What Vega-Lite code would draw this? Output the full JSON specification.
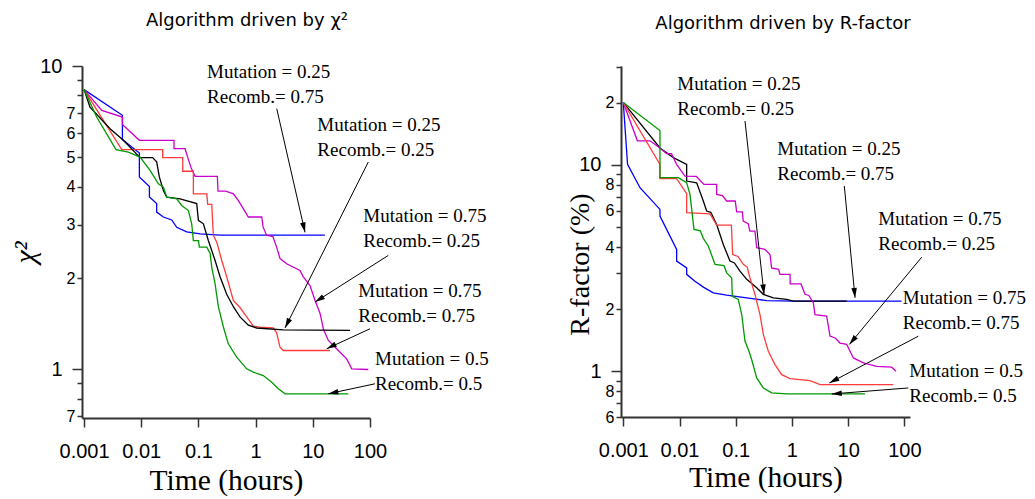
{
  "$schema": "https://vega.github.io/schema/vega-lite/v6.json",
  "padding": {"left": 10, "top": 12, "right": 0, "bottom": 0},
  "bounds": "flush",
  "spacing": 251,
  "config": {
    "view": {"stroke": null},
    "axis": {"domainColor": "#333333", "domainWidth": 2, "tickColor": "#333333", "tickWidth": 1.5, "labelColor": "black", "titleColor": "black", "grid": false, "labelOverlap": false, "labelBound": false, "labelFlush": false}
  },
  "datasets": {
    "chi": [
      {"run":"bl","i":0,"t":0.001,"v":8.36},{"run":"bl","i":1,"t":0.00468,"v":6.88},{"run":"bl","i":2,"t":0.00468,"v":5.72},{"run":"bl","i":3,"t":0.00927,"v":5.17},{"run":"bl","i":4,"t":0.00927,"v":4.31},{"run":"bl","i":5,"t":0.0139,"v":4.01},{"run":"bl","i":6,"t":0.0139,"v":3.70},{"run":"bl","i":7,"t":0.0186,"v":3.52},{"run":"bl","i":8,"t":0.0186,"v":3.30},{"run":"bl","i":9,"t":0.0244,"v":3.18},{"run":"bl","i":10,"t":0.0341,"v":3.11},{"run":"bl","i":11,"t":0.0417,"v":2.94},{"run":"bl","i":12,"t":0.0624,"v":2.84},{"run":"bl","i":13,"t":0.107,"v":2.80},{"run":"bl","i":14,"t":0.239,"v":2.77},{"run":"bl","i":15,"t":16.3,"v":2.77},
      {"run":"mg","i":0,"t":0.001,"v":8.36},{"run":"mg","i":1,"t":0.00204,"v":7.14},{"run":"mg","i":2,"t":0.00468,"v":6.79},{"run":"mg","i":3,"t":0.00468,"v":6.42},{"run":"mg","i":4,"t":0.00927,"v":5.69},{"run":"mg","i":5,"t":0.0374,"v":5.69},{"run":"mg","i":6,"t":0.0374,"v":5.34},{"run":"mg","i":7,"t":0.0583,"v":5.34},{"run":"mg","i":8,"t":0.065,"v":5.0},{"run":"mg","i":9,"t":0.075,"v":4.6},{"run":"mg","i":10,"t":0.0872,"v":4.33},{"run":"mg","i":11,"t":0.214,"v":4.33},{"run":"mg","i":12,"t":0.22,"v":3.87},{"run":"mg","i":13,"t":0.30,"v":3.87},{"run":"mg","i":14,"t":0.408,"v":3.79},{"run":"mg","i":15,"t":0.5,"v":3.6},{"run":"mg","i":16,"t":0.6,"v":3.4},{"run":"mg","i":17,"t":0.746,"v":3.18},{"run":"mg","i":18,"t":1.28,"v":3.18},{"run":"mg","i":19,"t":1.35,"v":2.95},{"run":"mg","i":20,"t":1.55,"v":2.77},{"run":"mg","i":21,"t":2.0,"v":2.74},{"run":"mg","i":22,"t":2.33,"v":2.53},{"run":"mg","i":23,"t":2.67,"v":2.32},{"run":"mg","i":24,"t":3.49,"v":2.23},{"run":"mg","i":25,"t":5.97,"v":2.12},{"run":"mg","i":26,"t":6.82,"v":2.02},{"run":"mg","i":27,"t":8.93,"v":1.89},{"run":"mg","i":28,"t":10.9,"v":1.69},{"run":"mg","i":29,"t":13.4,"v":1.53},{"run":"mg","i":30,"t":15.3,"v":1.36},{"run":"mg","i":31,"t":18.7,"v":1.246},{"run":"mg","i":32,"t":26.1,"v":1.17},{"run":"mg","i":33,"t":39.1,"v":1.084},{"run":"mg","i":34,"t":47.9,"v":1.005},{"run":"mg","i":35,"t":93.5,"v":1.0},
      {"run":"rd","i":0,"t":0.001,"v":8.36},{"run":"rd","i":1,"t":0.00456,"v":5.30},{"run":"rd","i":2,"t":0.0237,"v":5.30},{"run":"rd","i":3,"t":0.0237,"v":4.99},{"run":"rd","i":4,"t":0.0531,"v":4.99},{"run":"rd","i":5,"t":0.0531,"v":4.50},{"run":"rd","i":6,"t":0.0815,"v":4.50},{"run":"rd","i":7,"t":0.0815,"v":3.79},{"run":"rd","i":8,"t":0.14,"v":3.79},{"run":"rd","i":9,"t":0.145,"v":3.50},{"run":"rd","i":10,"t":0.171,"v":3.50},{"run":"rd","i":11,"t":0.182,"v":2.77},{"run":"rd","i":12,"t":0.21,"v":2.62},{"run":"rd","i":13,"t":0.255,"v":2.29},{"run":"rd","i":14,"t":0.312,"v":2.02},{"run":"rd","i":15,"t":0.408,"v":1.69},{"run":"rd","i":16,"t":0.533,"v":1.60},{"run":"rd","i":17,"t":0.698,"v":1.49},{"run":"rd","i":18,"t":0.913,"v":1.39},{"run":"rd","i":19,"t":1.19,"v":1.38},{"run":"rd","i":20,"t":2.04,"v":1.37},{"run":"rd","i":21,"t":2.33,"v":1.32},{"run":"rd","i":22,"t":2.67,"v":1.185},{"run":"rd","i":23,"t":3.05,"v":1.155},{"run":"rd","i":24,"t":20.0,"v":1.155},
      {"run":"bk","i":0,"t":0.001,"v":8.36},{"run":"bk","i":1,"t":0.00127,"v":7.32},{"run":"bk","i":2,"t":0.00285,"v":6.21},{"run":"bk","i":3,"t":0.00487,"v":5.69},{"run":"bk","i":4,"t":0.00953,"v":4.99},{"run":"bk","i":5,"t":0.0158,"v":4.99},{"run":"bk","i":6,"t":0.0186,"v":4.83},{"run":"bk","i":7,"t":0.0207,"v":4.31},{"run":"bk","i":8,"t":0.0244,"v":3.89},{"run":"bk","i":9,"t":0.0279,"v":3.70},{"run":"bk","i":10,"t":0.0477,"v":3.65},{"run":"bk","i":11,"t":0.0933,"v":3.52},{"run":"bk","i":12,"t":0.0998,"v":3.10},{"run":"bk","i":13,"t":0.122,"v":3.02},{"run":"bk","i":14,"t":0.149,"v":2.66},{"run":"bk","i":15,"t":0.195,"v":2.29},{"run":"bk","i":16,"t":0.239,"v":2.02},{"run":"bk","i":17,"t":0.312,"v":1.77},{"run":"bk","i":18,"t":0.408,"v":1.61},{"run":"bk","i":19,"t":0.533,"v":1.49},{"run":"bk","i":20,"t":0.746,"v":1.40},{"run":"bk","i":21,"t":1.04,"v":1.37},{"run":"bk","i":22,"t":3.05,"v":1.35},{"run":"bk","i":23,"t":44.7,"v":1.345},
      {"run":"gr","i":0,"t":0.001,"v":8.36},{"run":"gr","i":1,"t":0.00166,"v":6.79},{"run":"gr","i":2,"t":0.00362,"v":5.30},{"run":"gr","i":3,"t":0.00596,"v":5.20},{"run":"gr","i":4,"t":0.00953,"v":5.01},{"run":"gr","i":5,"t":0.01425,"v":4.53},{"run":"gr","i":6,"t":0.01995,"v":4.09},{"run":"gr","i":7,"t":0.0244,"v":3.99},{"run":"gr","i":8,"t":0.0279,"v":3.70},{"run":"gr","i":9,"t":0.0417,"v":3.65},{"run":"gr","i":10,"t":0.0509,"v":3.47},{"run":"gr","i":11,"t":0.0667,"v":3.34},{"run":"gr","i":12,"t":0.0762,"v":3.02},{"run":"gr","i":13,"t":0.0815,"v":2.66},{"run":"gr","i":14,"t":0.100,"v":2.66},{"run":"gr","i":15,"t":0.1038,"v":2.53},{"run":"gr","i":16,"t":0.14,"v":2.53},{"run":"gr","i":17,"t":0.16,"v":2.41},{"run":"gr","i":18,"t":0.171,"v":2.17},{"run":"gr","i":19,"t":0.195,"v":1.92},{"run":"gr","i":20,"t":0.223,"v":1.61},{"run":"gr","i":21,"t":0.273,"v":1.38},{"run":"gr","i":22,"t":0.333,"v":1.215},{"run":"gr","i":23,"t":0.466,"v":1.098},{"run":"gr","i":24,"t":0.698,"v":1.005},{"run":"gr","i":25,"t":0.913,"v":0.98},{"run":"gr","i":26,"t":1.36,"v":0.955},{"run":"gr","i":27,"t":1.91,"v":0.908},{"run":"gr","i":28,"t":2.5,"v":0.864},{"run":"gr","i":29,"t":3.27,"v":0.831},{"run":"gr","i":30,"t":41.8,"v":0.831}
    ],
    "chiArrows": [
      {"t":7.31,"v":2.83,"t2":2.339,"v2":7.236,"ang":167},
      {"t":3.266,"v":1.37,"t2":93.4,"v2":4.826,"ang":206.6},
      {"t":10.93,"v":1.667,"t2":208.9,"v2":2.376,"ang":237.5},
      {"t":17.5,"v":1.17,"t2":100,"v2":1.362,"ang":243.4},
      {"t":18.7,"v":0.8316,"t2":122.3,"v2":0.8972,"ang":257.9}
    ],
    "chiText": [
      {"t":0.1413,"v":9.53,"label":"Mutation = 0.25"},{"t":0.1413,"v":7.88,"label":"Recomb.= 0.75"},
      {"t":12.0,"v":6.375,"label":"Mutation = 0.25"},{"t":12.0,"v":5.27,"label":"Recomb.= 0.25"},
      {"t":76.4,"v":3.202,"label":"Mutation = 0.75"},{"t":76.4,"v":2.649,"label":"Recomb.= 0.25"},
      {"t":62.4,"v":1.812,"label":"Mutation = 0.75"},{"t":62.4,"v":1.499,"label":"Recomb.= 0.75"},
      {"t":122.3,"v":1.0846,"label":"Mutation = 0.5"},{"t":122.3,"v":0.8972,"label":"Recomb.= 0.5"}
    ],
    "rf": [
      {"run":"bl","i":0,"t":0.001,"v":20.1},{"run":"bl","i":1,"t":0.00119,"v":10.07},{"run":"bl","i":2,"t":0.00198,"v":7.76},{"run":"bl","i":3,"t":0.00449,"v":6.09},{"run":"bl","i":4,"t":0.00449,"v":5.65},{"run":"bl","i":5,"t":0.00889,"v":3.90},{"run":"bl","i":6,"t":0.00889,"v":3.42},{"run":"bl","i":7,"t":0.0134,"v":3.17},{"run":"bl","i":8,"t":0.0134,"v":2.95},{"run":"bl","i":9,"t":0.0188,"v":2.73},{"run":"bl","i":10,"t":0.027,"v":2.55},{"run":"bl","i":11,"t":0.0399,"v":2.40},{"run":"bl","i":12,"t":0.069,"v":2.34},{"run":"bl","i":13,"t":0.157,"v":2.27},{"run":"bl","i":14,"t":0.355,"v":2.20},{"run":"bl","i":15,"t":1.06,"v":2.19},{"run":"bl","i":16,"t":89,"v":2.19},
      {"run":"bk","i":0,"t":0.001,"v":20.1},{"run":"bk","i":1,"t":0.00449,"v":12.1},{"run":"bk","i":2,"t":0.00776,"v":10.86},{"run":"bk","i":3,"t":0.0134,"v":10.07},{"run":"bk","i":4,"t":0.0134,"v":8.36},{"run":"bk","i":5,"t":0.0202,"v":8.2},{"run":"bk","i":6,"t":0.0265,"v":6.69},{"run":"bk","i":7,"t":0.0304,"v":5.98},{"run":"bk","i":8,"t":0.036,"v":5.9},{"run":"bk","i":9,"t":0.0458,"v":5.15},{"run":"bk","i":10,"t":0.0601,"v":4.12},{"run":"bk","i":11,"t":0.079,"v":3.42},{"run":"bk","i":12,"t":0.095,"v":3.35},{"run":"bk","i":13,"t":0.119,"v":3.06},{"run":"bk","i":14,"t":0.157,"v":2.79},{"run":"bk","i":15,"t":0.236,"v":2.54},{"run":"bk","i":16,"t":0.31,"v":2.36},{"run":"bk","i":17,"t":0.466,"v":2.27},{"run":"bk","i":18,"t":0.805,"v":2.23},{"run":"bk","i":19,"t":1.06,"v":2.19},{"run":"bk","i":20,"t":9.4,"v":2.19},
      {"run":"mg","i":0,"t":0.001,"v":20.1},{"run":"mg","i":1,"t":0.00178,"v":13.1},{"run":"mg","i":2,"t":0.00298,"v":13.1},{"run":"mg","i":3,"t":0.00449,"v":12.1},{"run":"mg","i":4,"t":0.0059,"v":11.35},{"run":"mg","i":5,"t":0.0072,"v":11.35},{"run":"mg","i":6,"t":0.00889,"v":10.07},{"run":"mg","i":7,"t":0.0125,"v":8.84},{"run":"mg","i":8,"t":0.0200,"v":8.80},{"run":"mg","i":9,"t":0.0272,"v":8.05},{"run":"mg","i":10,"t":0.0458,"v":8.05},{"run":"mg","i":11,"t":0.0458,"v":7.2},{"run":"mg","i":12,"t":0.058,"v":7.1},{"run":"mg","i":13,"t":0.069,"v":6.69},{"run":"mg","i":14,"t":0.098,"v":6.69},{"run":"mg","i":15,"t":0.104,"v":5.93},{"run":"mg","i":16,"t":0.131,"v":5.93},{"run":"mg","i":17,"t":0.136,"v":5.35},{"run":"mg","i":18,"t":0.166,"v":5.2},{"run":"mg","i":19,"t":0.179,"v":4.78},{"run":"mg","i":20,"t":0.22,"v":4.78},{"run":"mg","i":21,"t":0.236,"v":3.97},{"run":"mg","i":22,"t":0.33,"v":3.90},{"run":"mg","i":23,"t":0.407,"v":3.68},{"run":"mg","i":24,"t":0.435,"v":3.17},{"run":"mg","i":25,"t":0.58,"v":3.12},{"run":"mg","i":26,"t":0.613,"v":2.95},{"run":"mg","i":27,"t":0.925,"v":2.95},{"run":"mg","i":28,"t":0.93,"v":2.65},{"run":"mg","i":29,"t":1.45,"v":2.65},{"run":"mg","i":30,"t":1.71,"v":2.36},{"run":"mg","i":31,"t":2.0,"v":2.33},{"run":"mg","i":32,"t":2.4,"v":2.15},{"run":"mg","i":33,"t":2.57,"v":1.88},{"run":"mg","i":34,"t":4.15,"v":1.85},{"run":"mg","i":35,"t":4.75,"v":1.48},{"run":"mg","i":36,"t":5.9,"v":1.45},{"run":"mg","i":37,"t":7.16,"v":1.37},{"run":"mg","i":38,"t":9.42,"v":1.35},{"run":"mg","i":39,"t":10.8,"v":1.25},{"run":"mg","i":40,"t":12.4,"v":1.16},{"run":"mg","i":41,"t":18.6,"v":1.098},{"run":"mg","i":42,"t":32.2,"v":1.057},{"run":"mg","i":43,"t":59.5,"v":1.046},{"run":"mg","i":44,"t":71.1,"v":1.0},
      {"run":"rd","i":0,"t":0.001,"v":20.1},{"run":"rd","i":1,"t":0.00449,"v":10.07},{"run":"rd","i":2,"t":0.00449,"v":8.58},{"run":"rd","i":3,"t":0.00889,"v":8.58},{"run":"rd","i":4,"t":0.0134,"v":7.26},{"run":"rd","i":5,"t":0.0134,"v":5.87},{"run":"rd","i":6,"t":0.0348,"v":5.8},{"run":"rd","i":7,"t":0.0458,"v":5.11},{"run":"rd","i":8,"t":0.0838,"v":5.11},{"run":"rd","i":9,"t":0.0882,"v":3.68},{"run":"rd","i":10,"t":0.11,"v":3.6},{"run":"rd","i":11,"t":0.136,"v":3.30},{"run":"rd","i":12,"t":0.16,"v":3.2},{"run":"rd","i":13,"t":0.179,"v":2.84},{"run":"rd","i":14,"t":0.22,"v":2.36},{"run":"rd","i":15,"t":0.27,"v":1.88},{"run":"rd","i":16,"t":0.31,"v":1.51},{"run":"rd","i":17,"t":0.38,"v":1.25},{"run":"rd","i":18,"t":0.5,"v":1.077},{"run":"rd","i":19,"t":0.657,"v":0.963},{"run":"rd","i":20,"t":0.925,"v":0.921},{"run":"rd","i":21,"t":2.1,"v":0.901},{"run":"rd","i":22,"t":3.16,"v":0.862},{"run":"rd","i":23,"t":63.7,"v":0.862},
      {"run":"gr","i":0,"t":0.001,"v":20.1},{"run":"gr","i":1,"t":0.00449,"v":14.7},{"run":"gr","i":2,"t":0.00449,"v":8.68},{"run":"gr","i":3,"t":0.00953,"v":8.68},{"run":"gr","i":4,"t":0.0134,"v":8.2},{"run":"gr","i":5,"t":0.01536,"v":7.2},{"run":"gr","i":6,"t":0.0181,"v":4.87},{"run":"gr","i":7,"t":0.0235,"v":4.8},{"run":"gr","i":8,"t":0.0265,"v":4.41},{"run":"gr","i":9,"t":0.0325,"v":4.05},{"run":"gr","i":10,"t":0.0428,"v":3.30},{"run":"gr","i":11,"t":0.062,"v":3.25},{"run":"gr","i":12,"t":0.069,"v":3.0},{"run":"gr","i":13,"t":0.0847,"v":2.84},{"run":"gr","i":14,"t":0.087,"v":2.31},{"run":"gr","i":15,"t":0.111,"v":2.23},{"run":"gr","i":16,"t":0.128,"v":1.88},{"run":"gr","i":17,"t":0.146,"v":1.40},{"run":"gr","i":18,"t":0.172,"v":1.25},{"run":"gr","i":19,"t":0.192,"v":1.14},{"run":"gr","i":20,"t":0.236,"v":0.928},{"run":"gr","i":21,"t":0.31,"v":0.83},{"run":"gr","i":22,"t":0.436,"v":0.785},{"run":"gr","i":23,"t":0.805,"v":0.776},{"run":"gr","i":24,"t":20,"v":0.776}
    ],
    "rfArrows": [
      {"t":0.319,"v":2.357,"t2":0.1462,"v2":16.35,"ang":173.7},
      {"t":13.27,"v":2.269,"t2":8.55,"v2":7.907,"ang":174.5},
      {"t":10.5,"v":1.348,"t2":204,"v2":3.575,"ang":219.7},
      {"t":4.63,"v":0.877,"t2":177.4,"v2":1.479,"ang":242.3},
      {"t":5.11,"v":0.776,"t2":117.8,"v2":0.8297,"ang":265.5}
    ],
    "rfText": [
      {"t":0.00914,"v":24.81,"label":"Mutation = 0.25"},{"t":0.00914,"v":18.64,"label":"Recomb.= 0.25"},
      {"t":0.5495,"v":12.0,"label":"Mutation = 0.25"},{"t":0.5495,"v":9.075,"label":"Recomb.= 0.75"},
      {"t":34.4,"v":5.45,"label":"Mutation = 0.75"},{"t":34.4,"v":4.121,"label":"Recomb.= 0.25"},
      {"t":93.7,"v":2.269,"label":"Mutation = 0.75"},{"t":93.7,"v":1.716,"label":"Recomb.= 0.75"},
      {"t":122.7,"v":1.008,"label":"Mutation = 0.5"},{"t":122.7,"v":0.756,"label":"Recomb.= 0.5"}
    ]
  },
  "hconcat": [
    {
      "width": 288,
      "height": 352,
      "title": {"text": "Algorithm driven by χ²", "font": "DejaVu Sans", "fontSize": 18, "fontWeight": "normal", "color": "black", "dx": 21, "offset": 12, "baseline": "alphabetic"},
      "encoding": {
        "x": {"field": "t", "type": "quantitative", "scale": {"type": "log", "domain": [0.00092, 100], "nice": false},
          "axis": {"values": [0.001, 0.01, 0.1, 1, 10, 100], "format": "~g", "title": "Time (hours)", "titleFont": "Liberation Serif", "titleFontSize": 29.5, "titleFontWeight": "normal", "titleBaseline": "alphabetic", "titleY": 71.6, "labelFont": "Liberation Sans", "labelFontSize": 20, "labelPadding": 14, "tickSize": 9}},
        "y": {"field": "v", "type": "quantitative", "scale": {"type": "log", "domain": [0.692, 10], "nice": false},
          "axis": {"values": [0.7, 0.8, 0.9, 1, 2, 3, 4, 5, 6, 7, 8, 9, 10],
            "labelExpr": "datum.value == 0.7 ? '7' : (datum.value == 1 || datum.value == 10 || (datum.value >= 2 && datum.value <= 7)) ? format(datum.value, 'd') : ''",
            "title": "χ²", "titleFont": "Liberation Serif", "titleFontSize": 30, "titleFontWeight": "normal", "titleFontStyle": "italic", "titleX": -42, "titleY": 186, "titleBaseline": "bottom",
            "labelFont": "Liberation Sans",
            "labelFontSize": {"condition": {"test": "datum.value == 1 || datum.value == 10", "value": 20}, "value": 16},
            "tickSize": {"condition": {"test": "datum.value == 1 || datum.value == 10", "value": 10}, "value": 5},
            "labelPadding": {"condition": {"test": "datum.value == 1 || datum.value == 10", "value": 10}, "value": 2}}}
      },
      "layer": [
        {"data": {"name": "chi"}, "mark": {"type": "line", "strokeWidth": 1.3},
          "encoding": {"color": {"field": "run", "type": "nominal", "scale": {"domain": ["bk", "bl", "mg", "rd", "gr"], "range": ["#000000", "#0000ff", "#cc00cc", "#ff3b3b", "#009900"]}, "legend": null},
            "order": {"field": "i", "type": "quantitative"}}},
        {"data": {"name": "chiArrows"}, "mark": {"type": "rule", "color": "black", "strokeWidth": 1},
          "encoding": {"x2": {"field": "t2"}, "y2": {"field": "v2"}}},
        {"data": {"name": "chiArrows"}, "mark": {"type": "point", "shape": "M0,0L-0.28,1L0.28,1Z", "filled": true, "color": "black", "size": 400, "opacity": 1},
          "encoding": {"angle": {"field": "ang", "type": "quantitative", "scale": null}}},
        {"data": {"name": "chiText"}, "mark": {"type": "text", "font": "Liberation Serif", "fontSize": 19, "align": "left", "baseline": "middle", "color": "black"},
          "encoding": {"text": {"field": "label", "type": "nominal"}}}
      ]
    },
    {
      "width": 289,
      "height": 351,
      "title": {"text": "Algorithm driven by R-factor", "font": "DejaVu Sans", "fontSize": 18, "fontWeight": "normal", "color": "black", "dx": 17.5, "offset": 12, "baseline": "alphabetic"},
      "encoding": {
        "x": {"field": "t", "type": "quantitative", "scale": {"type": "log", "domain": [0.00091, 126], "nice": false},
          "axis": {"values": [0.001, 0.01, 0.1, 1, 10, 100], "format": "~g", "title": "Time (hours)", "titleFont": "Liberation Serif", "titleFontSize": 29.5, "titleFontWeight": "normal", "titleBaseline": "alphabetic", "titleY": 69.5, "labelFont": "Liberation Sans", "labelFontSize": 20, "labelPadding": 14, "tickSize": 9}},
        "y": {"field": "v", "type": "quantitative", "scale": {"type": "log", "domain": [0.6, 30.2], "nice": false},
          "axis": {"values": [0.6, 0.7, 0.8, 0.9, 1, 2, 3, 4, 5, 6, 7, 8, 9, 10, 20, 30],
            "labelExpr": "datum.value == 0.6 ? '6' : datum.value == 0.8 ? '8' : datum.value == 20 ? '2' : indexof([1, 2, 4, 6, 8, 10], datum.value) >= 0 ? format(datum.value, 'd') : ''",
            "title": "R-factor (%)", "titleFont": "Liberation Serif", "titleFontSize": 28, "titleFontWeight": "normal", "titleX": -27, "titleY": 198, "titleBaseline": "bottom",
            "labelFont": "Liberation Sans",
            "labelFontSize": {"condition": {"test": "datum.value == 1 || datum.value == 10", "value": 20}, "value": 16},
            "tickSize": {"condition": {"test": "datum.value == 1 || datum.value == 10", "value": 10}, "value": 5},
            "labelPadding": {"condition": {"test": "datum.value == 1 || datum.value == 10", "value": 10}, "value": 2}}}
      },
      "layer": [
        {"data": {"name": "rf"}, "mark": {"type": "line", "strokeWidth": 1.3},
          "encoding": {"color": {"field": "run", "type": "nominal", "scale": {"domain": ["bk", "bl", "mg", "rd", "gr"], "range": ["#000000", "#0000ff", "#cc00cc", "#ff3b3b", "#009900"]}, "legend": null},
            "order": {"field": "i", "type": "quantitative"}}},
        {"data": {"name": "rfArrows"}, "mark": {"type": "rule", "color": "black", "strokeWidth": 1},
          "encoding": {"x2": {"field": "t2"}, "y2": {"field": "v2"}}},
        {"data": {"name": "rfArrows"}, "mark": {"type": "point", "shape": "M0,0L-0.28,1L0.28,1Z", "filled": true, "color": "black", "size": 400, "opacity": 1},
          "encoding": {"angle": {"field": "ang", "type": "quantitative", "scale": null}}},
        {"data": {"name": "rfText"}, "mark": {"type": "text", "font": "Liberation Serif", "fontSize": 19, "align": "left", "baseline": "middle", "color": "black"},
          "encoding": {"text": {"field": "label", "type": "nominal"}}}
      ]
    }
  ]
}
